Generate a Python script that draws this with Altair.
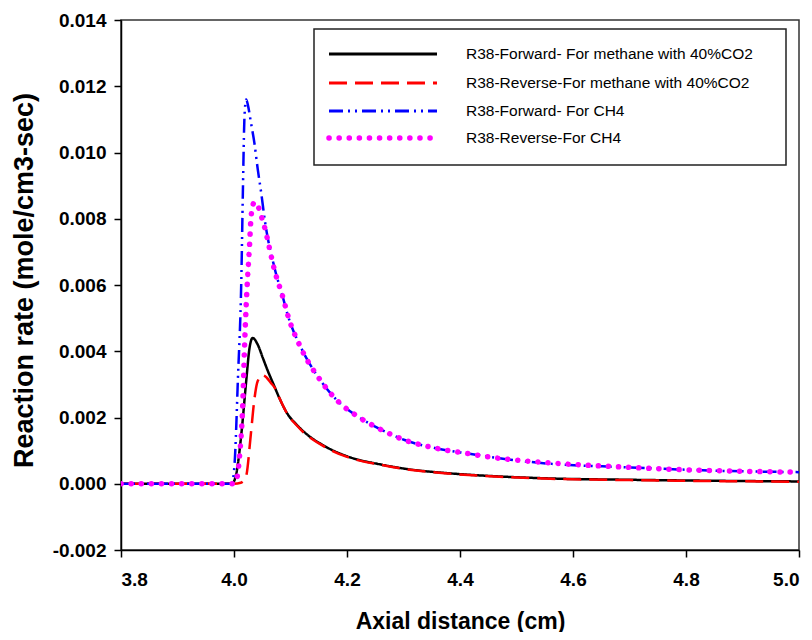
import altair as alt
import pandas as pd

# ---------------- data ----------------
series_names = [
    "R38-Forward- For methane with 40%CO2",
    "R38-Reverse-For methane with 40%CO2",
    "R38-Forward- For CH4",
    "R38-Reverse-For CH4",
]

x_fwd_co2 = [3.80, 3.90, 3.990, 3.998, 4.004, 4.013, 4.0216, 4.0275, 4.033, 4.042, 4.051,
             4.060, 4.070, 4.080, 4.095, 4.110, 4.125, 4.140, 4.154, 4.172, 4.200, 4.260, 4.300, 4.385,
             4.470, 4.560, 4.700, 4.850, 5.000]
y_fwd_co2 = [0.0, 0.0, 0.0, 0.00003, 0.0003, 0.0015, 0.0031, 0.0041, 0.0044, 0.0042, 0.0038,
             0.0034, 0.0030, 0.0026, 0.0021, 0.0018, 0.00155, 0.00135, 0.00120, 0.00103, 0.00083, 0.00058, 0.00046, 0.00031,
             0.00022, 0.00016, 0.00012, 0.00009, 0.00007]

x_rev_co2 = [3.80, 3.90, 4.000, 4.012, 4.021, 4.030, 4.036, 4.042, 4.051,
             4.058, 4.065, 4.072, 4.080, 4.095, 4.110, 4.125, 4.140, 4.154, 4.172, 4.200, 4.260, 4.300, 4.385,
             4.470, 4.560, 4.700, 4.850, 5.000]
y_rev_co2 = [0.0, 0.0, 0.0, 0.00003, 0.0002, 0.00153, 0.00254, 0.0031, 0.00328,
             0.0032, 0.00305, 0.0029, 0.0026, 0.00209, 0.00178, 0.00152, 0.00133, 0.00118, 0.00101, 0.00081, 0.00057, 0.00045, 0.00030,
             0.00021, 0.00015, 0.00011, 0.00008, 0.00006]

x_fwd_ch4 = [3.80, 3.90, 3.996, 4.001, 4.007, 4.013, 4.0157, 4.0186, 4.0216, 4.025, 4.030,
             4.036, 4.042, 4.048, 4.055, 4.072, 4.087, 4.095, 4.119, 4.154, 4.187, 4.219, 4.255,
             4.302, 4.355, 4.414, 4.473, 4.562, 4.692, 4.840, 5.000]
y_fwd_ch4 = [0.0, 0.0, 0.0, 0.0006, 0.0032, 0.0062, 0.0088, 0.0111, 0.0116, 0.0114, 0.0109,
             0.0103, 0.0095, 0.0088, 0.0079, 0.0065, 0.0056, 0.0051, 0.0041, 0.0031, 0.00244, 0.00203, 0.00168,
             0.00132, 0.00108, 0.00091, 0.00076, 0.00060, 0.00050, 0.00040, 0.00035]

x_rev_ch4 = [3.80, 3.90, 3.998, 4.004, 4.0097, 4.0157, 4.0186, 4.0216, 4.0275, 4.0304, 4.036, 4.042,
             4.048, 4.054, 4.072, 4.087, 4.095, 4.119, 4.154, 4.187, 4.219, 4.255, 4.302, 4.355,
             4.414, 4.473, 4.544, 4.692, 4.840, 5.000]
y_rev_ch4 = [0.0, 0.0, 0.0, 0.0001, 0.0008, 0.0025, 0.0041, 0.0054, 0.0072, 0.0081, 0.0085, 0.0084,
             0.0081, 0.00775, 0.00643, 0.0056, 0.0051, 0.00408, 0.0031, 0.00244, 0.00203, 0.00168, 0.00132, 0.00108,
             0.00091, 0.00076, 0.00065, 0.00050, 0.00040, 0.00035]

x_ticks = [3.8, 4.0, 4.2, 4.4, 4.6, 4.8, 5.0]
y_ticks = [-0.002, 0.0, 0.002, 0.004, 0.006, 0.008, 0.010, 0.012, 0.014]

all_x = [x_fwd_co2, x_rev_co2, x_fwd_ch4, x_rev_ch4]
all_y = [y_fwd_co2, y_rev_co2, y_fwd_ch4, y_rev_ch4]

# ---------------- styles ----------------
colors = ["#000000", "#ff0000", "#0000ff", "#ff00ff"]
dashes = [[1, 0], [18, 8], [14, 5, 2, 5, 2, 5], [0.1, 10]]
widths = [2.5, 2.5, 2.5, 5.5]
caps = ["butt", "butt", "butt", "round"]

FONT = "Liberation Sans"

x_scale = alt.Scale(domain=[3.8, 5.0], nice=False, zero=False)
y_scale = alt.Scale(domain=[-0.002, 0.014], nice=False, zero=False)

x_axis = alt.Axis(
    values=x_ticks, format=".1f", title="Axial distance (cm)", grid=False,
    labelFont=FONT, labelFontSize=19, labelFontWeight="bold", labelColor="black",
    titleFont=FONT, titleFontSize=23, titleFontWeight="bold", titleColor="black",
    tickSize=7, tickColor="black", tickWidth=1.5, domainColor="black", domainWidth=1.5,
    labelPadding=13, titleY=78, titleBaseline="alphabetic",
)
y_axis = alt.Axis(
    values=y_ticks, title="Reaction rate (mole/cm3-sec)", grid=False,
    labelExpr="datum.value < 0 ? '-' + format(abs(datum.value), '.3f') : format(datum.value, '.3f')",
    labelFont=FONT, labelFontSize=19, labelFontWeight="bold", labelColor="black",
    titleFont=FONT, titleFontSize=27, titleFontWeight="bold", titleColor="black",
    tickSize=7, tickColor="black", tickWidth=1.5, domainColor="black", domainWidth=1.5,
    labelPadding=8, titleX=-97, titleY=260, titleAngle=270, titleAlign="center",
    titleBaseline="middle",
)

layers = []
for i in range(4):
    df = pd.DataFrame({"x": all_x[i], "y": all_y[i]})
    layers.append(
        alt.Chart(df).mark_line(
            color=colors[i], strokeWidth=widths[i], strokeDash=dashes[i],
            strokeCap=caps[i], interpolate="monotone", clip=True,
        ).encode(
            x=alt.X("x:Q", scale=x_scale, axis=x_axis),
            y=alt.Y("y:Q", scale=y_scale, axis=y_axis),
        )
    )

# ---------------- legend (drawn inside plot, top-right) ----------------
dummy = pd.DataFrame({"d": [0]})
layers.append(
    alt.Chart(dummy).mark_rect(fill="white", stroke="#222222", strokeWidth=1.5).encode(
        x=alt.value(193), x2=alt.value(665), y=alt.value(9), y2=alt.value(145)
    )
)
row_y = [34, 63, 91, 118]
for i in range(4):
    layers.append(
        alt.Chart(dummy).mark_rule(
            color=colors[i], strokeWidth=(3 if i < 3 else 5.5), strokeDash=dashes[i],
            strokeCap=caps[i],
        ).encode(x=alt.value(208), x2=alt.value(316), y=alt.value(row_y[i]))
    )
    layers.append(
        alt.Chart(dummy).mark_text(
            text=series_names[i], align="left", baseline="middle",
            font=FONT, fontSize=15.5, color="black",
        ).encode(x=alt.value(345), y=alt.value(row_y[i]))
    )

chart = alt.layer(*layers).properties(
    width=678, height=530,
    autosize=alt.AutoSizeParams(type="none"),
    padding={"left": 113, "top": 12, "right": 5, "bottom": 82},
).configure_view(stroke="#333333", strokeWidth=1.5)

chart.save("out.html", embed_options={"renderer": "svg", "actions": False})
